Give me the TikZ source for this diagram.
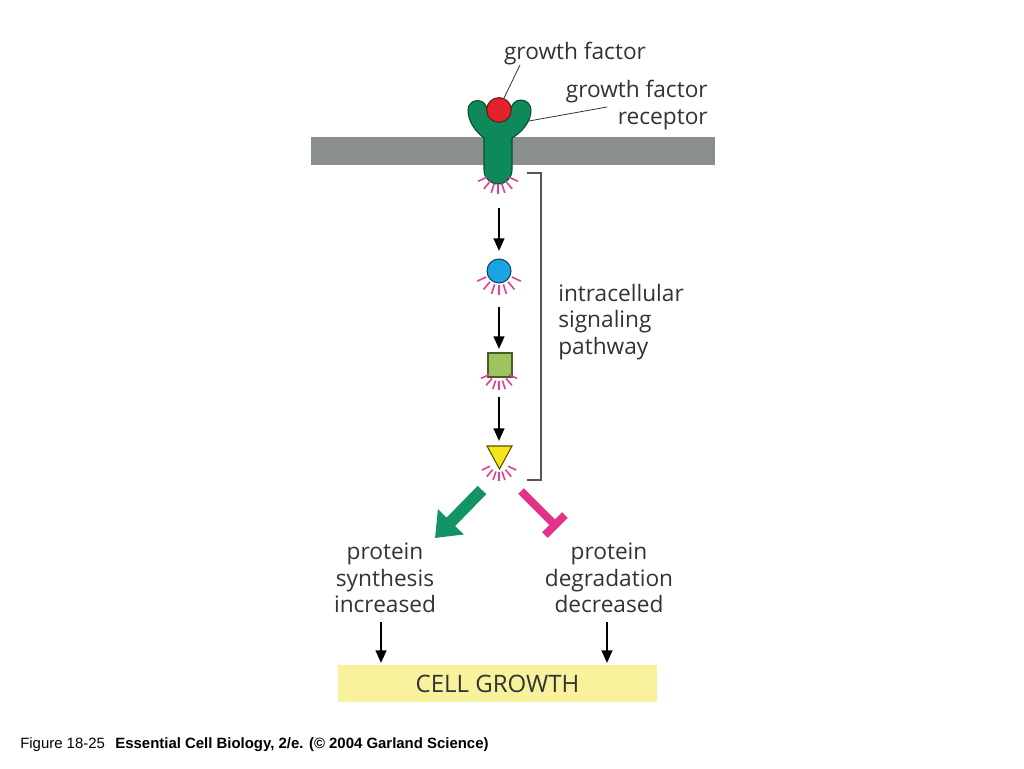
\documentclass[tikz,border=0pt]{standalone}
\usepackage{fontspec}
\setmainfont{Open Sans}
\newfontfamily\capfont{Liberation Sans}
\usetikzlibrary{arrows.meta,calc}
\definecolor{memgray}{HTML}{8A8F8D}
\definecolor{recgreen}{HTML}{0E8A5A}
\definecolor{recline}{HTML}{0B4D33}
\definecolor{gfred}{HTML}{E3232C}
\definecolor{gfline}{HTML}{6B1A1A}
\definecolor{sigblue}{HTML}{1BA3E3}
\definecolor{blueline}{HTML}{1A3F66}
\definecolor{sqgreen}{HTML}{9DC45F}
\definecolor{sqline}{HTML}{4A5A2A}
\definecolor{triyellow}{HTML}{F5E51A}
\definecolor{triline}{HTML}{5A5200}
\definecolor{raypink}{HTML}{E0408F}
\definecolor{arrgreen}{HTML}{129465}
\definecolor{tpink}{HTML}{E2338A}
\definecolor{cgyellow}{HTML}{F8F29C}
\definecolor{txtgray}{HTML}{333333}
\definecolor{brkgray}{HTML}{555555}
\newcommand{\sparks}[3]{%
  \foreach \a in {25,50,72,90,108,130,155}
    \draw[ray] ($(#1)+(\a:#2)$) -- ($(#1)+(\a:#3)$);}
\begin{document}
\begin{tikzpicture}[x=0.75pt,y=-0.75pt,
  lbl/.style={font=\fontsize{17}{20}\selectfont, text=txtgray, inner sep=0pt},
  ray/.style={draw=raypink, line width=1.2pt},
  arr/.style={line width=1.7pt, -{Triangle[length=9.5pt,width=8pt]}},
  lead/.style={draw=txtgray, line width=0.6pt},
  brk/.style={draw=brkgray, line width=1.1pt}]
\useasboundingbox (0,0) rectangle (1024,768);
\fill[white] (0,0) rectangle (1024,768);

% membrane
\node[fill=memgray, minimum width=303pt, minimum height=21pt, inner sep=0pt] (mem) at (513,151) {};

% receptor
\draw[fill=recgreen, draw=recline, line width=0.8pt]
  (484,170) -- (484,138)
  .. controls (476,132) and (468,122) .. (468,110)
  arc[start angle=180, end angle=360, radius=9.5]
  .. controls (488,116) and (492,121) .. (499,121)
  .. controls (506,121) and (510,116) .. (511,110)
  arc[start angle=180, end angle=360, radius=10]
  .. controls (531,122) and (522,132) .. (512,138)
  -- (512,170)
  arc[start angle=0, end angle=180, radius=14] -- cycle;
\coordinate (recray) at (498,172);
\coordinate (recarm) at (529,121);

% growth factor
\node[circle, fill=gfred, draw=gfline, line width=0.8pt, minimum size=18.5pt, inner sep=0pt] (gf) at (499,110) {};

% labels top
\node[lbl] (gflbl) at (575,54) {growth factor};
\node[lbl, align=right, anchor=east] (reclbl) at (708,105) {growth factor\\receptor};
\coordinate (gfl1) at (520,65);
\coordinate (gfl2) at (504,98);
\coordinate (rl1) at (607,107);
\draw[lead] (gfl1) -- (gfl2);
\draw[lead] (rl1) -- (recarm);

% signaling molecules
\node[circle, fill=sigblue, draw=blueline, line width=0.8pt, minimum size=18pt, inner sep=0pt] (b1) at (499,271) {};
\node[rectangle, fill=sqgreen, draw=sqline, line width=0.8pt, minimum size=18pt, inner sep=0pt] (sq) at (500,365) {};
\draw[fill=triyellow, draw=triline, line width=0.8pt] (487,446) -- (512,446) -- (499.5,469) -- cycle;
\coordinate (tri) at (499.5,455);

% sparks
\sparks{recray}{12}{22}
\sparks{b1}{14}{24}
\sparks{499,370}{11}{20}
\sparks{499,462}{10}{19}

% arrows in pathway
\coordinate (a1s) at (499,208); \coordinate (a1e) at (499,251);
\coordinate (a2s) at (499,307); \coordinate (a2e) at (499,349);
\coordinate (a3s) at (499,397); \coordinate (a3e) at (499,441);
\draw[arr] (a1s) -- (a1e);
\draw[arr] (a2s) -- (a2e);
\draw[arr] (a3s) -- (a3e);

% bracket
\coordinate (bk1) at (527,173);
\coordinate (bk2) at (541,480);
\coordinate (bk3) at (527,480);
\draw[brk] (bk1) -| (bk2) -- (bk3);
\node[lbl, align=left, anchor=west] (path) at (558,322) {intracellular\\signaling\\pathway};

% branches
\coordinate (gas) at (482,490);
\coordinate (gae) at (435,538);
\draw[draw=arrgreen, line width=9pt, -{Triangle[length=17pt,width=26pt]}] (gas) -- (gae);
\coordinate (tps) at (521,491);
\coordinate (tpe) at (555,525);
\coordinate (tb1) at (545,535);
\coordinate (tb2) at (565,515);
\draw[draw=tpink, line width=6pt] (tps) -- (tpe);
\draw[draw=tpink, line width=6pt] (tb1) -- (tb2);

% outcomes
\node[lbl, align=center] (syn) at (385,578) {protein\\synthesis\\increased};
\node[lbl, align=center] (deg) at (609,578) {protein\\degradation\\decreased};

\node[fill=cgyellow, minimum width=239pt, minimum height=27.75pt, inner sep=0pt,
      font=\fontsize{18}{20}\selectfont, text=txtgray] (cg) at (497.5,683.5) {CELL GROWTH};
\coordinate (s1) at (381,622); \coordinate (s2) at (381,663);
\coordinate (d1) at (607,622); \coordinate (d2) at (607,663);
\draw[arr] (s1) -- (s2);
\draw[arr] (d1) -- (d2);

% caption
\node[anchor=west, inner sep=0pt, text=black, font=\capfont\fontsize{11.2}{13}\selectfont] (cap) at (20,745)
  {Figure 18-25\hspace{0.7em}\textbf{Essential Cell Biology, 2/e. (© 2004 Garland Science)}};
\end{tikzpicture}
\end{document}
